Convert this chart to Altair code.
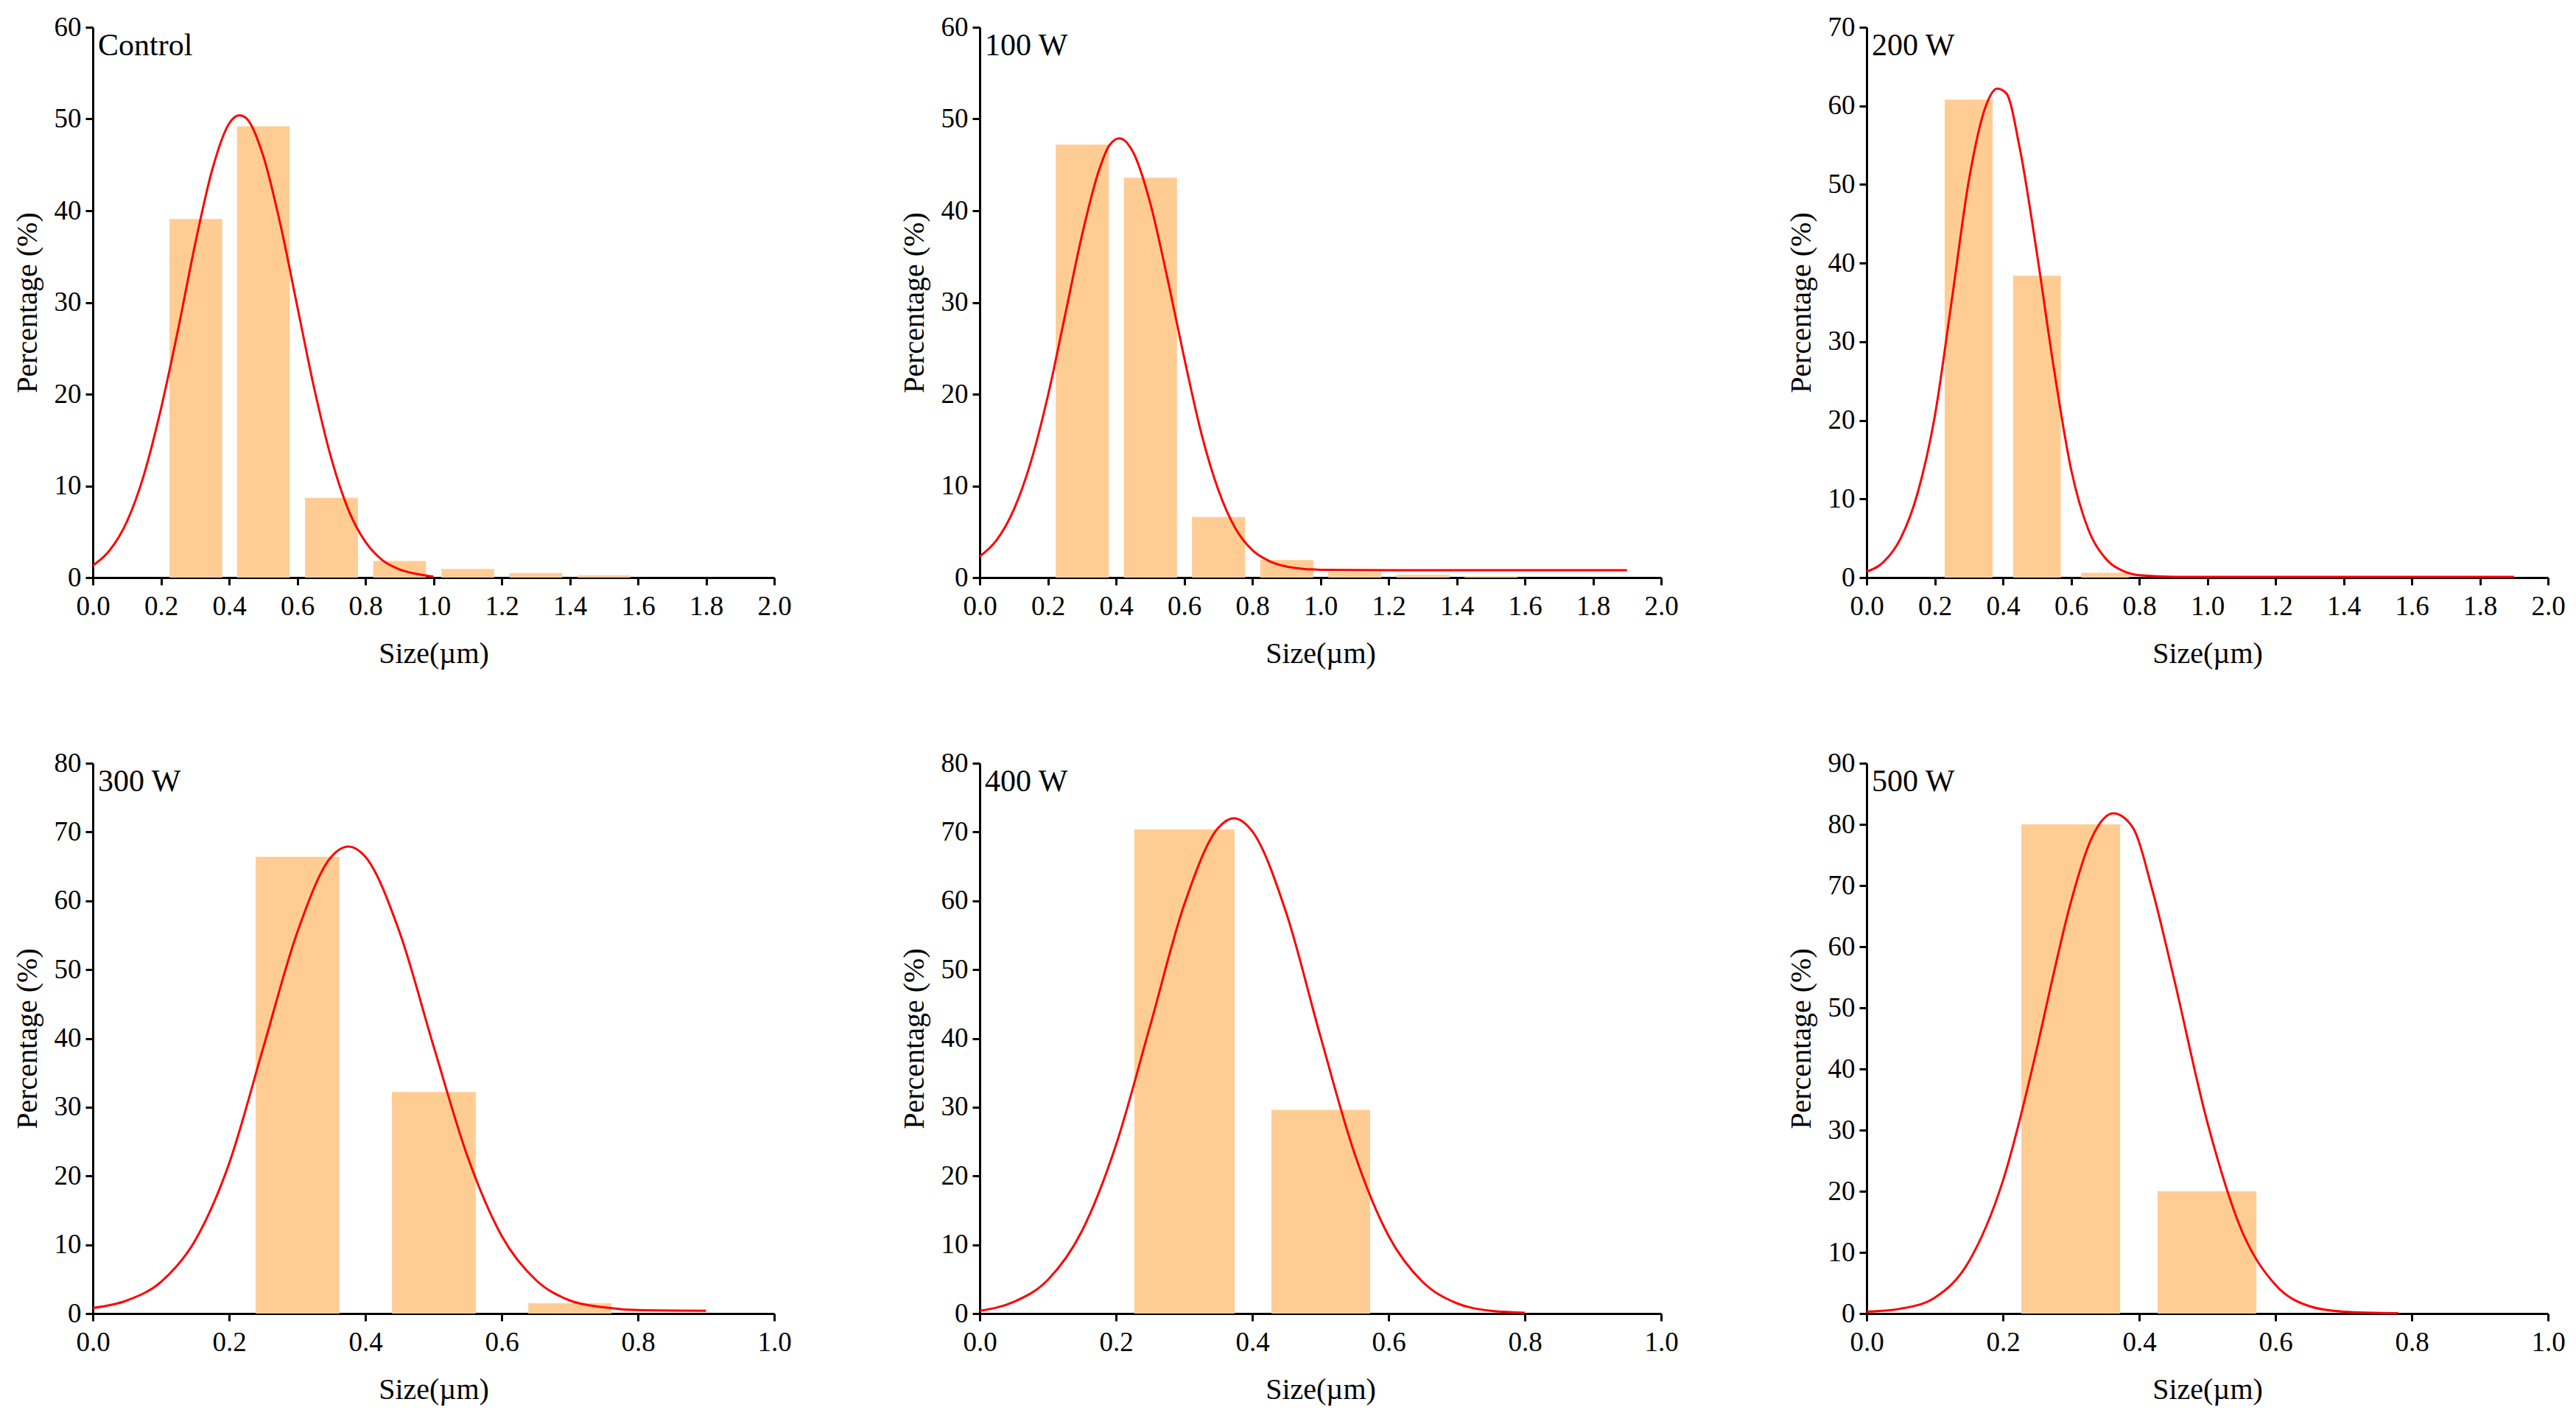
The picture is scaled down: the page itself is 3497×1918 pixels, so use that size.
import altair as alt
import pandas as pd

names = ["Control", "100 W", "200 W", "300 W", "400 W", "500 W"]
x_max = [2.0, 2.0, 2.0, 1.0, 1.0, 1.0]
y_max = [60, 60, 70, 80, 80, 90]

x_ticks_wide = [0.0, 0.2, 0.4, 0.6, 0.8, 1.0, 1.2, 1.4, 1.6, 1.8, 2.0]
x_ticks_narrow = [0.0, 0.2, 0.4, 0.6, 0.8, 1.0]
x_ticks = [x_ticks_wide, x_ticks_wide, x_ticks_wide,
           x_ticks_narrow, x_ticks_narrow, x_ticks_narrow]
y_ticks = [
    [0, 10, 20, 30, 40, 50, 60],
    [0, 10, 20, 30, 40, 50, 60],
    [0, 10, 20, 30, 40, 50, 60, 70],
    [0, 10, 20, 30, 40, 50, 60, 70, 80],
    [0, 10, 20, 30, 40, 50, 60, 70, 80],
    [0, 10, 20, 30, 40, 50, 60, 70, 80, 90],
]

# histogram bars: left edge, right edge, percentage
bar_lo = [
    [0.225, 0.423, 0.623, 0.823, 1.023, 1.223, 1.423],
    [0.223, 0.423, 0.623, 0.823, 1.023, 1.223, 1.423],
    [0.229, 0.430, 0.630],
    [0.239, 0.439, 0.639],
    [0.227, 0.428],
    [0.227, 0.427],
]
bar_hi = [
    [0.380, 0.578, 0.778, 0.978, 1.178, 1.378, 1.578],
    [0.379, 0.579, 0.779, 0.979, 1.179, 1.379, 1.579],
    [0.370, 0.570, 0.770],
    [0.362, 0.562, 0.761],
    [0.374, 0.573],
    [0.372, 0.572],
]
bar_pct = [
    [39.1, 49.2, 8.7, 1.8, 0.95, 0.5, 0.25],
    [47.2, 43.6, 6.6, 1.9, 0.6, 0.3, 0.15],
    [60.8, 38.4, 0.6],
    [66.4, 32.2, 1.5],
    [70.4, 29.6],
    [80.0, 20.0],
]

# fitted distribution curves
curve_x = [
    [0.0, 0.05, 0.1, 0.15, 0.2, 0.25, 0.3, 0.35, 0.4, 0.43, 0.45, 0.5, 0.55,
     0.6, 0.65, 0.7, 0.75, 0.8, 0.85, 0.9, 0.95, 1.0],
    [0.0, 0.05, 0.1, 0.15, 0.2, 0.25, 0.3, 0.35, 0.38, 0.41, 0.45, 0.5, 0.55,
     0.6, 0.65, 0.7, 0.75, 0.8, 0.85, 0.9, 0.95, 1.0, 1.2, 1.5, 1.9],
    [0.0, 0.05, 0.1, 0.15, 0.2, 0.25, 0.3, 0.35, 0.383, 0.41, 0.45, 0.5, 0.55,
     0.6, 0.65, 0.7, 0.75, 0.8, 0.9, 1.2, 1.9],
    [0.0, 0.05, 0.1, 0.15, 0.2, 0.25, 0.3, 0.35, 0.375, 0.4, 0.45, 0.5, 0.55,
     0.6, 0.65, 0.7, 0.75, 0.8, 0.9],
    [0.0, 0.05, 0.1, 0.15, 0.2, 0.25, 0.3, 0.35, 0.373, 0.4, 0.45, 0.5, 0.55,
     0.6, 0.65, 0.7, 0.75, 0.8],
    [0.0, 0.05, 0.1, 0.15, 0.2, 0.25, 0.27, 0.3, 0.33, 0.362, 0.39, 0.42,
     0.45, 0.5, 0.55, 0.6, 0.65, 0.7, 0.78],
]
curve_y = [
    [1.3, 3.0, 6.1, 11.2, 18.4, 27.0, 36.3, 44.4, 49.5, 50.4, 50.1, 46.0, 38.6,
     29.6, 20.6, 13.0, 7.4, 3.9, 1.9, 0.9, 0.4, 0.1],
    [2.3, 4.1, 7.4, 12.6, 19.8, 28.5, 37.3, 44.4, 47.1, 47.9, 46.4, 40.9, 32.8,
     24.0, 15.8, 9.6, 5.4, 3.0, 1.8, 1.2, 0.95, 0.85, 0.8, 0.8, 0.8],
    [0.75, 2.0, 5.0, 10.8, 20.5, 35.3, 50.5, 60.0, 62.2, 61.6, 54.5, 41.2, 26.5,
     13.8, 6.2, 2.5, 0.9, 0.3, 0.1, 0.1, 0.1],
    [0.8, 1.9, 4.6, 10.6, 21.8, 38.6, 55.4, 66.4, 67.9, 66.4, 55.5, 38.9, 22.8,
     11.3, 4.9, 1.9, 0.9, 0.5, 0.4],
    [0.4, 1.7, 4.9, 12.0, 24.5, 41.8, 59.4, 70.6, 72.0, 70.1, 58.2, 40.3, 23.3,
     11.3, 4.6, 1.5, 0.4, 0.1],
    [0.3, 0.8, 2.6, 8.5, 21.7, 43.4, 53.4, 67.4, 77.7, 81.8, 79.6, 69.0,
     55.3, 31.3, 13.7, 4.7, 1.2, 0.3, 0.05],
]

BAR_COLOR = "#FFCD94"
LINE_COLOR = "#FF0000"
FONT = "Liberation Serif"
W, H = 925, 747


def panel(i):
    bars = pd.DataFrame({
        "lo": bar_lo[i],
        "hi": bar_hi[i],
        "pct": bar_pct[i],
        "base": [0] * len(bar_lo[i]),
    })
    curve = pd.DataFrame({"size": curve_x[i], "pct": curve_y[i]})
    label = pd.DataFrame({"label": [names[i]]})

    xs = alt.Scale(domain=[0, x_max[i]], nice=False)
    ys = alt.Scale(domain=[0, y_max[i]], nice=False)
    xa = alt.Axis(values=x_ticks[i], format=".1f", title="Size(µm)")
    ya = alt.Axis(values=y_ticks[i], title="Percentage (%)")

    b = alt.Chart(bars).mark_rect(color=BAR_COLOR).encode(
        x=alt.X("lo:Q", scale=xs, axis=xa),
        x2="hi",
        y=alt.Y("pct:Q", scale=ys, axis=ya),
        y2="base",
    )
    ln = alt.Chart(curve).mark_line(
        color=LINE_COLOR, strokeWidth=3, interpolate="monotone"
    ).encode(
        x=alt.X("size:Q", scale=xs, axis=xa),
        y=alt.Y("pct:Q", scale=ys, axis=ya),
    )
    t = alt.Chart(label).mark_text(
        align="left", baseline="top", font=FONT, fontSize=42, color="black"
    ).encode(text="label:N", x=alt.value(7), y=alt.value(5))
    return alt.layer(b, ln, t).properties(width=W, height=H)


chart = alt.concat(
    *[panel(i) for i in range(6)],
    columns=3,
    spacing={"row": 252, "column": 279},
    bounds="flush",
).properties(
    padding={"left": 9, "top": 10, "right": 5, "bottom": 5}
).configure_view(
    strokeWidth=0
).configure_axis(
    domainColor="black",
    domainWidth=3,
    tickColor="black",
    tickWidth=3,
    tickSize=10,
    labelFont=FONT,
    labelFontSize=37,
    labelColor="black",
    labelPadding=11,
    labelFlush=False,
    titleFont=FONT,
    titleFontSize=40,
    titleFontWeight="normal",
    titleColor="black",
    grid=False,
    zindex=1,
).configure_axisX(
    titlePadding=26
).configure_axisY(
    labelPadding=6,
    titlePadding=16
)

chart.save("out.html", embed_options={"renderer": "svg", "actions": False})
